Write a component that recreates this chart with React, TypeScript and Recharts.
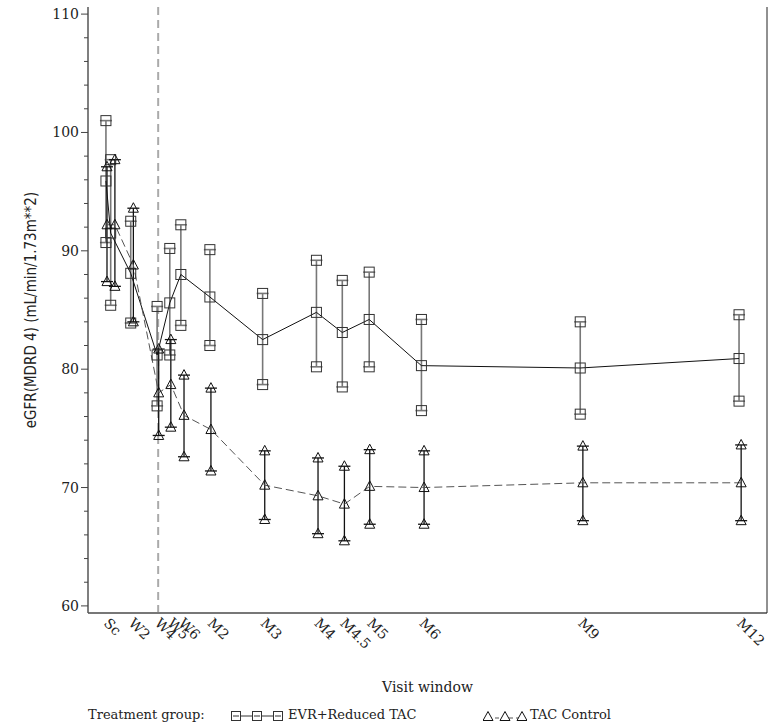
import { ComposedChart, Line, XAxis, YAxis, ErrorBar, ReferenceLine } from "recharts";

// visit window ticks (months since screening)
const visitLabels = ["Sc", "W2", "W4", "W5", "W6", "M2", "M3", "M4", "M4.5", "M5", "M6", "M9", "M12"];
const visitTicks = [0, 0.47, 0.97, 1.21, 1.42, 1.97, 2.97, 3.99, 4.48, 4.99, 5.98, 8.99, 12.0];
const randomizationTime = 0.99;

const yMajorTicks = [60, 70, 80, 90, 100, 110];
const yAllTicks = [60, 62, 64, 66, 68, 70, 72, 74, 76, 78, 80, 82, 84, 86, 88, 90, 92, 94, 96, 98, 100, 102, 104, 106, 108, 110];

// EVR + Reduced TAC
const evrTime = [0, 0.09, 0.47, 0.97, 1.21, 1.42, 1.97, 2.97, 3.99, 4.48, 4.99, 5.98, 8.99, 12.0];
const evrMean = [95.9, 91.5, 88.1, 81.2, 85.6, 88.0, 86.1, 82.5, 84.8, 83.1, 84.2, 80.3, 80.1, 80.9];
const evrLow = [90.7, 85.4, 83.9, 76.9, 81.2, 83.7, 82.0, 78.7, 80.2, 78.5, 80.2, 76.5, 76.2, 77.3];
const evrHigh = [101.0, 97.7, 92.5, 85.3, 90.2, 92.2, 90.1, 86.4, 89.2, 87.5, 88.2, 84.2, 84.0, 84.6];

// TAC Control
const tacTime = [0.02, 0.17, 0.52, 1.0, 1.23, 1.48, 1.99, 3.01, 4.02, 4.52, 5.0, 6.03, 9.04, 12.04];
const tacMean = [92.2, 92.2, 88.8, 78.0, 78.7, 76.1, 74.9, 70.2, 69.3, 68.6, 70.1, 70.0, 70.4, 70.4];
const tacLow = [87.4, 87.0, 84.0, 74.4, 75.1, 72.6, 71.4, 67.3, 66.1, 65.5, 66.9, 66.9, 67.2, 67.2];
const tacHigh = [97.1, 97.7, 93.6, 81.7, 82.5, 79.5, 78.4, 73.1, 72.5, 71.8, 73.2, 73.1, 73.5, 73.6];

const build = (time: number[], mean: number[], lo: number[], hi: number[]) =>
  time.map((t, i) => ({ t, mean: mean[i], lo: lo[i], hi: hi[i], err: [mean[i] - lo[i], hi[i] - mean[i]] }));

const evrRows = build(evrTime, evrMean, evrLow, evrHigh);
const tacRows = build(tacTime, tacMean, tacLow, tacHigh);

const SERIF = "'DejaVu Serif', 'Liberation Serif', serif";
const NARROW = "'DejaVu Sans Condensed', 'Liberation Sans Narrow', 'DejaVu Sans', sans-serif";

const Square = (p: any) => {
  if (p.cx == null || p.cy == null) return <g key={p.index} />;
  return <rect key={p.index} x={p.cx - 5} y={p.cy - 5} width={10} height={10} fill="none" stroke="#333" strokeWidth={1} />;
};

const Triangle = (p: any) => {
  if (p.cx == null || p.cy == null) return <g key={p.index} />;
  const { cx, cy } = p;
  return (
    <path key={p.index} d={`M${cx},${cy - 5.5}L${cx + 5},${cy + 4}L${cx - 5},${cy + 4}Z`} fill="none" stroke="#111" strokeWidth={1} />
  );
};

const XTick = ({ x, y, payload }: any) => {
  const i = visitTicks.indexOf(payload.value);
  const label = i >= 0 ? visitLabels[i] : "";
  const tx = x - 3;
  const ty = y + 5;
  return (
    <text x={tx} y={ty} transform={`rotate(45, ${tx}, ${ty})`} textAnchor="start" fontSize={14} fontFamily={SERIF} fill="#222">
      {label}
    </text>
  );
};

const YTick = ({ x, y, payload }: any) => {
  const axisX = x + 8;
  const major = yMajorTicks.includes(payload.value);
  return (
    <g>
      <line x1={axisX - (major ? 7 : 4)} x2={axisX} y1={y} y2={y} stroke="#444" strokeWidth={1} />
      {major && (
        <text x={axisX - 9} y={y} dy={5} textAnchor="end" fontSize={14} fontFamily={SERIF} fill="#222">
          {payload.value}
        </text>
      )}
    </g>
  );
};

const SquaresIcon = () => (
  <svg width={52} height={12} style={{ verticalAlign: "middle" }}>
    <line x1={5} x2={47} y1={6} y2={6} stroke="#333" />
    {[5, 26, 47].map((cx) => (
      <g key={cx}>
        <rect x={cx - 4.5} y={1.5} width={9} height={9} fill="#fff" stroke="#333" />
        <line x1={cx - 3} x2={cx + 3} y1={6} y2={6} stroke="#333" />
      </g>
    ))}
  </svg>
);

const TrianglesIcon = () => (
  <svg width={44} height={12} style={{ verticalAlign: "middle" }}>
    <line x1={5} x2={39} y1={8} y2={8} stroke="#555" strokeDasharray="4 3" />
    {[5, 22, 39].map((cx) => (
      <path key={cx} d={`M${cx},1.5L${cx + 5},10.5L${cx - 5},10.5Z`} fill="#fff" stroke="#111" />
    ))}
  </svg>
);

export default function App() {
  return (
    <div style={{ position: "relative", width: 777, height: 726, background: "#fff" }}>
      <style>{"body{margin:0}"}</style>
      <ComposedChart width={777} height={726} margin={{ top: 7, right: 0, bottom: 0, left: 0 }}>
        <XAxis
          xAxisId="x"
          type="number"
          dataKey="t"
          domain={[-0.34, 12.53]}
          ticks={visitTicks}
          interval={0}
          tick={<XTick />}
          tickLine={false}
          tickSize={0}
          tickMargin={6}
          axisLine={{ stroke: "#777", strokeWidth: 2 }}
          height={113}
          allowDataOverflow
          label={{
            content: ({ viewBox }: any) => (
              <text x={viewBox.x + viewBox.width / 2} y={viewBox.y + 79} textAnchor="middle" fontSize={14} fontFamily={SERIF} fill="#222">
                Visit window
              </text>
            ),
          }}
        />
        <XAxis xAxisId="top" orientation="top" type="number" domain={[-0.34, 12.53]} tick={false} tickLine={false} height={0} axisLine={{ stroke: "#222" }} />
        <YAxis
          yAxisId="y"
          type="number"
          domain={[59.4, 110.6]}
          ticks={yAllTicks}
          interval={0}
          tick={<YTick />}
          tickLine={false}
          tickSize={6}
          tickMargin={2}
          width={88}
          allowDataOverflow
          axisLine={{ stroke: "#555", strokeWidth: 1.5 }}
          label={{
            content: ({ viewBox }: any) => {
              const cx = 31;
              const cy = viewBox.y + viewBox.height / 2;
              return (
                <text x={cx} y={cy} transform={`rotate(-90, ${cx}, ${cy})`} textAnchor="middle" dominantBaseline="central" fontSize={15} fontFamily={NARROW} fill="#222">
                  eGFR(MDRD 4) (mL/min/1.73m**2)
                </text>
              );
            },
          }}
        />
        <YAxis yAxisId="r" orientation="right" type="number" domain={[59.4, 110.6]} tick={false} tickLine={false} width={10} axisLine={{ stroke: "#222" }} />

        <ReferenceLine xAxisId="x" yAxisId="y" x={randomizationTime} stroke="#aaa" strokeWidth={2} strokeDasharray="8 5" />

        <Line xAxisId="x" yAxisId="y" data={evrRows} dataKey="mean" stroke="#111" strokeWidth={1} dot={Square} activeDot={false} isAnimationActive={false}>
          <ErrorBar dataKey="err" direction="y" width={6} stroke="#777" strokeWidth={1.6} />
        </Line>
        <Line xAxisId="x" yAxisId="y" data={evrRows} dataKey="lo" stroke="none" dot={Square} activeDot={false} isAnimationActive={false} />
        <Line xAxisId="x" yAxisId="y" data={evrRows} dataKey="hi" stroke="none" dot={Square} activeDot={false} isAnimationActive={false} />

        <Line xAxisId="x" yAxisId="y" data={tacRows} dataKey="mean" stroke="#555" strokeWidth={1} strokeDasharray="8 4" dot={Triangle} activeDot={false} isAnimationActive={false}>
          <ErrorBar dataKey="err" direction="y" width={6} stroke="#111" strokeWidth={1.3} />
        </Line>
        <Line xAxisId="x" yAxisId="y" data={tacRows} dataKey="lo" stroke="none" dot={Triangle} activeDot={false} isAnimationActive={false} />
        <Line xAxisId="x" yAxisId="y" data={tacRows} dataKey="hi" stroke="none" dot={Triangle} activeDot={false} isAnimationActive={false} />
      </ComposedChart>

      <div style={{ position: "absolute", left: 88, top: 707, fontFamily: SERIF, fontSize: 13, color: "#222", whiteSpace: "nowrap", lineHeight: "16px" }}>
        <span>Treatment group:</span>
        <span style={{ position: "absolute", left: 143, top: 0 }}><SquaresIcon /></span>
        <span style={{ position: "absolute", left: 200, top: 0 }}>EVR+Reduced TAC</span>
        <span style={{ position: "absolute", left: 395, top: 0 }}><TrianglesIcon /></span>
        <span style={{ position: "absolute", left: 442, top: 0 }}>TAC Control</span>
      </div>
    </div>
  );
}
